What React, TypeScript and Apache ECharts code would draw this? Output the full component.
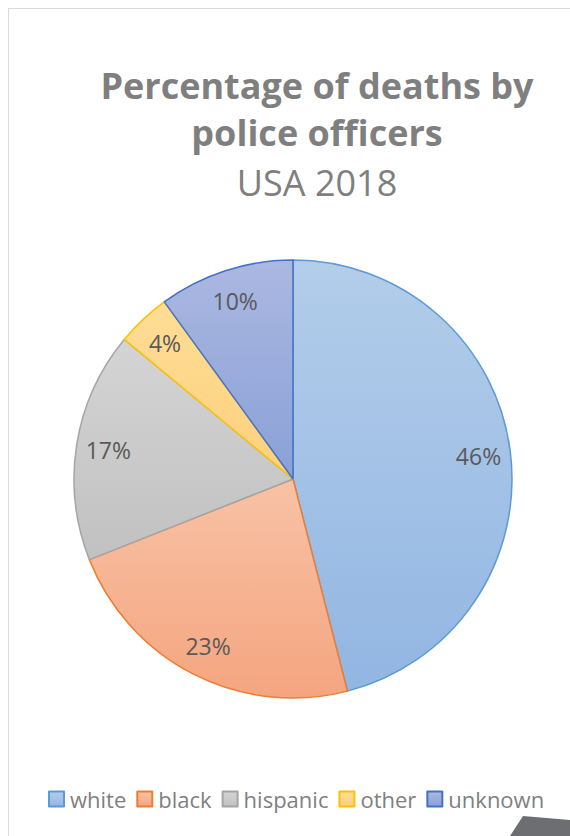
import React, { useEffect, useRef } from "react";
import * as echarts from "echarts";

const categories = ["white", "black", "hispanic", "other", "unknown"];
const values = [46, 23, 17, 4, 10];
const fillTop = ["#b3cdea", "#f8c2a6", "#d4d4d4", "#fedd96", "#abb8e1"];
const fillBottom = ["#92b6e2", "#f4a57f", "#c1c1c1", "#fdd07c", "#8aa0d7"];
const borderColors = ["#5b9bd5", "#ed7d31", "#a5a5a5", "#ffc000", "#4472c4"];

const titleText = "Percentage of deaths by\npolice officers";
const subtitleText = "USA 2018";
const FONT = "'Open Sans', 'Noto Sans', sans-serif";

export default function App() {
  const ref = useRef<HTMLDivElement>(null);
  useEffect(() => {
    if (!ref.current) return;
    const chart = echarts.init(ref.current, null, { renderer: "svg" });
    const data = categories.map((name, i) => ({
      name,
      value: values[i],
      itemStyle: {
        color: new echarts.graphic.LinearGradient(0, 0, 0, 1, [
          { offset: 0, color: fillTop[i] },
          { offset: 1, color: fillBottom[i] },
        ]),
        borderColor: borderColors[i],
        borderWidth: 1.5,
      },
    }));
    chart.setOption({
      animation: false,
      backgroundColor: "#ffffff",
      title: [
        {
          text: titleText,
          left: 317,
          top: 62,
          padding: 0,
          textAlign: "center",
          textVerticalAlign: "top",
          textStyle: {
            fontFamily: FONT,
            fontSize: 36,
            fontWeight: "bold",
            color: "#7f7f7f",
            lineHeight: 47,
          },
        },
        {
          text: subtitleText,
          left: 317,
          top: 162,
          padding: 0,
          textAlign: "center",
          textVerticalAlign: "top",
          textStyle: {
            fontFamily: FONT,
            fontSize: 36,
            fontWeight: "normal",
            color: "#7f7f7f",
            lineHeight: 40,
          },
        },
      ],
      legend: {
        data: categories,
        left: 43,
        top: 783,
        itemWidth: 15,
        itemHeight: 15,
        itemGap: 10,
        icon: "rect",
        selectedMode: false,
        textStyle: {
          fontFamily: FONT,
          fontSize: 22,
          color: "#7f7f7f",
          padding: [0, 0, 0, 1],
        },
      },
      graphic: [
        {
          type: "rect",
          z: -10,
          silent: true,
          shape: { x: 8.5, y: 8.5, width: 800, height: 1000 },
          style: { fill: "#ffffff", stroke: "#d9d9d9", lineWidth: 1 },
        },
        {
          type: "polygon",
          z: 100,
          silent: true,
          shape: {
            points: [
              [523, 816],
              [570, 820],
              [570, 836],
              [510, 836],
            ],
          },
          style: { fill: "#6d6e71" },
        },
      ],
      series: [
        {
          type: "pie",
          center: [293, 479],
          radius: [0, 219],
          startAngle: 90,
          clockwise: true,
          silent: true,
          label: { show: false },
          labelLine: { show: false },
          data,
        },
        {
          type: "pie",
          center: [293, 479],
          radius: [150, 218],
          startAngle: 90,
          clockwise: true,
          silent: true,
          itemStyle: { color: "transparent", borderWidth: 0 },
          label: {
            show: true,
            position: "inside",
            formatter: "{c}%",
            fontFamily: FONT,
            fontSize: 23,
            color: "#595959",
          },
          labelLine: { show: false },
          data: categories.map((name, i) => ({ name, value: values[i] })),
        },
      ],
    });
    return () => chart.dispose();
  }, []);
  return (
    <div
      ref={ref}
      style={{ position: "fixed", left: 0, top: 0, width: 570, height: 836 }}
    />
  );
}
